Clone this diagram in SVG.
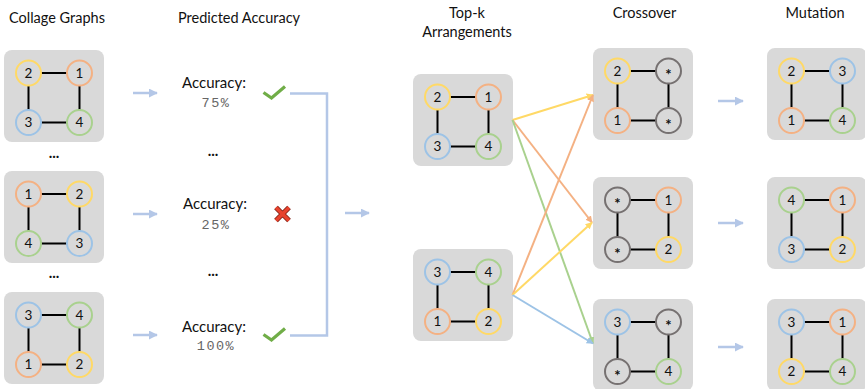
<svg xmlns="http://www.w3.org/2000/svg" width="865" height="389" viewBox="0 0 865 389">
<defs>
<style>
.box{fill:#D9D9D9}
.c{fill:#D9D9D9;stroke-width:2}
.y{stroke:#FFD966}.o{stroke:#F4B183}.b{stroke:#9DC3E6}.g{stroke:#A9D18E}.k{stroke:#767171}
.e{stroke:#000;stroke-width:2;fill:none}
.n{font-family:Lato,"Open Sans",sans-serif;font-size:13.5px;text-anchor:middle;fill:#111}
.s{font-family:Lato,"Open Sans",sans-serif;font-size:15px;text-anchor:middle;fill:#111;font-weight:bold}
.t{font-family:Lato,"Open Sans",sans-serif;font-size:14.5px;text-anchor:middle;fill:#111}
.a{font-family:Lato,"Open Sans",sans-serif;font-size:15px;text-anchor:middle;fill:#111}
.m{font-family:"Liberation Mono","DejaVu Sans Mono",monospace;font-size:13.5px;text-anchor:middle;fill:#666;letter-spacing:1.5px}
.d{font-family:Lato,sans-serif;font-size:15px;font-weight:bold;text-anchor:middle;fill:#111}
.ba{stroke:#B4C7E7;stroke-width:2.5;fill:none}
.cl{stroke-width:2;fill:none}
</style>
<marker id="hb" viewBox="0 0 10 10" refX="9" refY="5" markerWidth="9" markerHeight="9" markerUnits="userSpaceOnUse" orient="auto"><path d="M0,0L10,5L0,10z" fill="#B4C7E7"/></marker>
<marker id="hy" viewBox="0 0 10 10" refX="9" refY="5" markerWidth="7" markerHeight="7" markerUnits="userSpaceOnUse" orient="auto"><path d="M0,0L10,5L0,10z" fill="#FFD966"/></marker>
<marker id="ho" viewBox="0 0 10 10" refX="9" refY="5" markerWidth="7" markerHeight="7" markerUnits="userSpaceOnUse" orient="auto"><path d="M0,0L10,5L0,10z" fill="#F4B183"/></marker>
<marker id="hg" viewBox="0 0 10 10" refX="9" refY="5" markerWidth="7" markerHeight="7" markerUnits="userSpaceOnUse" orient="auto"><path d="M0,0L10,5L0,10z" fill="#A9D18E"/></marker>
<marker id="hl" viewBox="0 0 10 10" refX="9" refY="5" markerWidth="7" markerHeight="7" markerUnits="userSpaceOnUse" orient="auto"><path d="M0,0L10,5L0,10z" fill="#9DC3E6"/></marker>
<g id="frame">
<rect class="box" x="0" y="0" width="100" height="92" rx="8"/>
<path class="e" d="M37,23H63M37,72.5H63M24.5,35.5V60M75.5,35.5V60"/>
</g>
</defs>

<!-- Titles -->
<text class="t" x="57" y="23">Collage Graphs</text>
<text class="t" x="239" y="23">Predicted Accuracy</text>
<text class="t" x="467" y="18">Top-k</text>
<text class="t" x="467" y="37">Arrangements</text>
<text class="t" x="644.5" y="18">Crossover</text>
<text class="t" x="815" y="18">Mutation</text>

<!-- Collage graphs -->
<g id="collage1" transform="translate(4,50)">
<use href="#frame"/>
<circle class="c y" cx="24.5" cy="23" r="12.5"/><text class="n" x="24.5" y="27.5">2</text>
<circle class="c o" cx="75.5" cy="23" r="12.5"/><text class="n" x="75.5" y="27.5">1</text>
<circle class="c b" cx="24.5" cy="72.5" r="12.5"/><text class="n" x="24.5" y="77">3</text>
<circle class="c g" cx="75.5" cy="72.5" r="12.5"/><text class="n" x="75.5" y="77">4</text>
</g>
<g id="collage2" transform="translate(4,171)">
<use href="#frame"/>
<circle class="c o" cx="24.5" cy="23" r="12.5"/><text class="n" x="24.5" y="27.5">1</text>
<circle class="c y" cx="75.5" cy="23" r="12.5"/><text class="n" x="75.5" y="27.5">2</text>
<circle class="c g" cx="24.5" cy="72.5" r="12.5"/><text class="n" x="24.5" y="77">4</text>
<circle class="c b" cx="75.5" cy="72.5" r="12.5"/><text class="n" x="75.5" y="77">3</text>
</g>
<g id="collage3" transform="translate(4,292)">
<use href="#frame"/>
<circle class="c b" cx="24.5" cy="23" r="12.5"/><text class="n" x="24.5" y="27.5">3</text>
<circle class="c g" cx="75.5" cy="23" r="12.5"/><text class="n" x="75.5" y="27.5">4</text>
<circle class="c o" cx="24.5" cy="72.5" r="12.5"/><text class="n" x="24.5" y="77">1</text>
<circle class="c y" cx="75.5" cy="72.5" r="12.5"/><text class="n" x="75.5" y="77">2</text>
</g>
<text class="d" x="54" y="158">...</text>
<text class="d" x="54" y="278">...</text>

<!-- Predicted accuracy -->
<g id="acc1">
<text class="a" x="214" y="88">Accuracy:</text>
<text class="m" x="216" y="107">75%</text>
<path d="M263.5,92.5L271.5,98L285,86.5" fill="none" stroke="#70AD47" stroke-width="3.2"/>
</g>
<g id="acc2">
<text class="a" x="215" y="209">Accuracy:</text>
<text class="m" x="216" y="229">25%</text>
<path d="M276,207.5L289,220.5M289,207.5L276,220.5" stroke="#7A1E12" stroke-width="5.2" stroke-linecap="butt"/>
<path d="M276,207.5L289,220.5M289,207.5L276,220.5" stroke="#E8432E" stroke-width="3.6"/>
</g>
<g id="acc3">
<text class="a" x="214" y="332">Accuracy:</text>
<text class="m" x="216" y="350">100%</text>
<path d="M263.5,334.5L271.5,340L285,328.5" fill="none" stroke="#70AD47" stroke-width="3.2"/>
</g>
<text class="d" x="213" y="156">...</text>
<text class="d" x="213" y="276">...</text>

<!-- Top-k -->
<g id="topk1" transform="translate(413,74)">
<use href="#frame"/>
<circle class="c y" cx="24.5" cy="23" r="12.5"/><text class="n" x="24.5" y="27.5">2</text>
<circle class="c o" cx="75.5" cy="23" r="12.5"/><text class="n" x="75.5" y="27.5">1</text>
<circle class="c b" cx="24.5" cy="72.5" r="12.5"/><text class="n" x="24.5" y="77">3</text>
<circle class="c g" cx="75.5" cy="72.5" r="12.5"/><text class="n" x="75.5" y="77">4</text>
</g>
<g id="topk2" transform="translate(413,249)">
<use href="#frame"/>
<circle class="c b" cx="24.5" cy="23" r="12.5"/><text class="n" x="24.5" y="27.5">3</text>
<circle class="c g" cx="75.5" cy="23" r="12.5"/><text class="n" x="75.5" y="27.5">4</text>
<circle class="c o" cx="24.5" cy="72.5" r="12.5"/><text class="n" x="24.5" y="77">1</text>
<circle class="c y" cx="75.5" cy="72.5" r="12.5"/><text class="n" x="75.5" y="77">2</text>
</g>

<!-- Crossover -->
<g id="cross1" transform="translate(593,48)">
<use href="#frame"/>
<circle class="c y" cx="24.5" cy="23" r="12.5"/><text class="n" x="24.5" y="27.5">2</text>
<circle class="c k" cx="75.5" cy="23" r="12.5"/><text class="s" x="75.5" y="32">*</text>
<circle class="c o" cx="24.5" cy="72.5" r="12.5"/><text class="n" x="24.5" y="77">1</text>
<circle class="c k" cx="75.5" cy="72.5" r="12.5"/><text class="s" x="75.5" y="81.5">*</text>
</g>
<g id="cross2" transform="translate(593,177)">
<use href="#frame"/>
<circle class="c k" cx="24.5" cy="23" r="12.5"/><text class="s" x="24.5" y="32">*</text>
<circle class="c o" cx="75.5" cy="23" r="12.5"/><text class="n" x="75.5" y="27.5">1</text>
<circle class="c k" cx="24.5" cy="72.5" r="12.5"/><text class="s" x="24.5" y="81.5">*</text>
<circle class="c y" cx="75.5" cy="72.5" r="12.5"/><text class="n" x="75.5" y="77">2</text>
</g>
<g id="cross3" transform="translate(593,299)">
<use href="#frame"/>
<circle class="c b" cx="24.5" cy="23" r="12.5"/><text class="n" x="24.5" y="27.5">3</text>
<circle class="c k" cx="75.5" cy="23" r="12.5"/><text class="s" x="75.5" y="32">*</text>
<circle class="c k" cx="24.5" cy="72.5" r="12.5"/><text class="s" x="24.5" y="81.5">*</text>
<circle class="c g" cx="75.5" cy="72.5" r="12.5"/><text class="n" x="75.5" y="77">4</text>
</g>

<!-- Mutation -->
<g id="mut1" transform="translate(767,48)">
<use href="#frame"/>
<circle class="c y" cx="24.5" cy="23" r="12.5"/><text class="n" x="24.5" y="27.5">2</text>
<circle class="c b" cx="75.5" cy="23" r="12.5"/><text class="n" x="75.5" y="27.5">3</text>
<circle class="c o" cx="24.5" cy="72.5" r="12.5"/><text class="n" x="24.5" y="77">1</text>
<circle class="c g" cx="75.5" cy="72.5" r="12.5"/><text class="n" x="75.5" y="77">4</text>
</g>
<g id="mut2" transform="translate(767,177)">
<use href="#frame"/>
<circle class="c g" cx="24.5" cy="23" r="12.5"/><text class="n" x="24.5" y="27.5">4</text>
<circle class="c o" cx="75.5" cy="23" r="12.5"/><text class="n" x="75.5" y="27.5">1</text>
<circle class="c b" cx="24.5" cy="72.5" r="12.5"/><text class="n" x="24.5" y="77">3</text>
<circle class="c y" cx="75.5" cy="72.5" r="12.5"/><text class="n" x="75.5" y="77">2</text>
</g>
<g id="mut3" transform="translate(767,299)">
<use href="#frame"/>
<circle class="c b" cx="24.5" cy="23" r="12.5"/><text class="n" x="24.5" y="27.5">3</text>
<circle class="c o" cx="75.5" cy="23" r="12.5"/><text class="n" x="75.5" y="27.5">1</text>
<circle class="c y" cx="24.5" cy="72.5" r="12.5"/><text class="n" x="24.5" y="77">2</text>
<circle class="c g" cx="75.5" cy="72.5" r="12.5"/><text class="n" x="75.5" y="77">4</text>
</g>

<!-- Connectors -->
<g id="connectors">
<line class="ba" x1="133" y1="93" x2="157" y2="93" marker-end="url(#hb)"/>
<line class="ba" x1="133" y1="214" x2="157" y2="214" marker-end="url(#hb)"/>
<line class="ba" x1="133" y1="335" x2="157" y2="335" marker-end="url(#hb)"/>
<polyline class="ba" stroke-width="2" points="290,93.5 327,93.5 327,335.5 290,335.5"/>
<line class="ba" x1="345" y1="213" x2="369" y2="213" marker-end="url(#hb)"/>
<line class="ba" x1="718" y1="101" x2="743" y2="101" marker-end="url(#hb)"/>
<line class="ba" x1="718" y1="223" x2="743" y2="223" marker-end="url(#hb)"/>
<line class="ba" x1="718" y1="347" x2="743" y2="347" marker-end="url(#hb)"/>
<line class="cl" stroke="#FFD966" x1="512.5" y1="120" x2="593" y2="95" marker-end="url(#hy)"/>
<line class="cl" stroke="#F4B183" x1="512.5" y1="120" x2="592" y2="222.5" marker-end="url(#ho)"/>
<line class="cl" stroke="#A9D18E" x1="512.5" y1="120" x2="593" y2="343.5" marker-end="url(#hg)"/>
<line class="cl" stroke="#F4B183" x1="512.5" y1="295" x2="593" y2="95" marker-end="url(#ho)"/>
<line class="cl" stroke="#FFD966" x1="512.5" y1="295" x2="592" y2="222.5" marker-end="url(#hy)"/>
<line class="cl" stroke="#9DC3E6" x1="512.5" y1="295" x2="593" y2="343.5" marker-end="url(#hl)"/>
</g>
</svg>
